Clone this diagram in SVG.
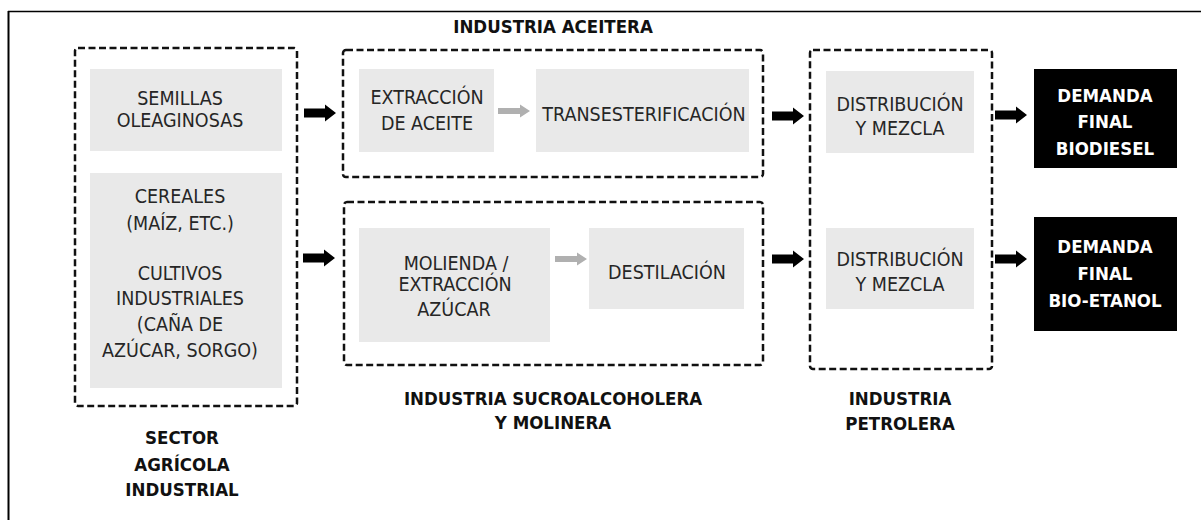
<svg xmlns="http://www.w3.org/2000/svg" width="1201" height="520" viewBox="0 0 1201 520">
<style>
.frame{stroke:#000;fill:none}
.group{fill:none;stroke:#111;stroke-width:2.5;stroke-dasharray:7 3.5}
.box{fill:#e9e9e9}
.dark{fill:#000}
text{font-family:"DejaVu Sans Condensed","DejaVu Sans","Liberation Sans",sans-serif;font-size:18.5px;text-anchor:middle;font-stretch:condensed}
.t{fill:#262626;font-size:19.5px}
.b{font-weight:bold;fill:#111}
.w{font-weight:bold;fill:#fff}
</style>
<defs>
<path id="ba" d="M0,-4.5 H21 V-8.5 L32,0 L21,8.5 V4.5 H0 Z" fill="#000"/>
<path id="ga" d="M0,-3 H22 V-6.5 L32,0 L22,6.5 V3 H0 Z" fill="#b0b0b0"/>
</defs>
<rect width="1201" height="520" fill="#fff"/>
<g id="frame">
<line class="frame" x1="8.5" y1="11" x2="8.5" y2="520" stroke-width="2"/>
<line class="frame" x1="8" y1="11.5" x2="1201" y2="11.5" stroke-width="1.5"/>
</g>
<g id="sector-agricola">
<rect class="group" x="75" y="48" width="222" height="358" rx="3"/>
<text class="b" x="182" y="444">SECTOR</text>
<text class="b" x="182" y="471">AGRÍCOLA</text>
<text class="b" x="182" y="496">INDUSTRIAL</text>
</g>
<g id="semillas">
<rect class="box" x="90" y="69" width="192" height="82"/>
<text class="t" x="180" y="105">SEMILLAS</text>
<text class="t" x="180" y="127">OLEAGINOSAS</text>
</g>
<g id="cereales">
<rect class="box" x="90" y="173" width="192" height="215"/>
<text class="t" x="180" y="203">CEREALES</text>
<text class="t" x="180" y="230">(MAÍZ, ETC.)</text>
<text class="t" x="180" y="280">CULTIVOS</text>
<text class="t" x="180" y="305">INDUSTRIALES</text>
<text class="t" x="180" y="331">(CAÑA DE</text>
<text class="t" x="180" y="357">AZÚCAR, SORGO)</text>
</g>
<g id="industria-aceitera">
<text class="b" x="553" y="33">INDUSTRIA ACEITERA</text>
<rect class="group" x="343" y="50" width="420" height="127" rx="3"/>
</g>
<g id="extraccion-aceite">
<rect class="box" x="359" y="69" width="135" height="83"/>
<text class="t" x="427" y="104">EXTRACCIÓN</text>
<text class="t" x="427" y="130">DE ACEITE</text>
</g>
<g id="transesterificacion">
<rect class="box" x="536" y="69" width="213" height="83"/>
<text class="t" x="644" y="121">TRANSESTERIFICACIÓN</text>
</g>
<g id="industria-sucroalcoholera">
<rect class="group" x="344" y="202" width="419" height="163" rx="3"/>
<text class="b" x="553" y="405">INDUSTRIA SUCROALCOHOLERA</text>
<text class="b" x="553" y="429">Y MOLINERA</text>
</g>
<g id="molienda">
<rect class="box" x="359" y="228" width="191" height="114"/>
<text class="t" x="456" y="270">MOLIENDA /</text>
<text class="t" x="455" y="291">EXTRACCIÓN</text>
<text class="t" x="454" y="316">AZÚCAR</text>
</g>
<g id="destilacion">
<rect class="box" x="589" y="228" width="155" height="81"/>
<text class="t" x="667" y="279">DESTILACIÓN</text>
</g>
<g id="industria-petrolera">
<rect class="group" x="810" y="50" width="182" height="319" rx="3"/>
<text class="b" x="900" y="405">INDUSTRIA</text>
<text class="b" x="900" y="430">PETROLERA</text>
</g>
<g id="distribucion-1">
<rect class="box" x="826" y="71" width="148" height="82"/>
<text class="t" x="900" y="111">DISTRIBUCIÓN</text>
<text class="t" x="900" y="135">Y MEZCLA</text>
</g>
<g id="distribucion-2">
<rect class="box" x="826" y="228" width="148" height="81"/>
<text class="t" x="900" y="266">DISTRIBUCIÓN</text>
<text class="t" x="900" y="291">Y MEZCLA</text>
</g>
<g id="demanda-biodiesel">
<rect class="dark" x="1034" y="69" width="143" height="99"/>
<text class="w" x="1105" y="102">DEMANDA</text>
<text class="w" x="1105" y="128">FINAL</text>
<text class="w" x="1105" y="155">BIODIESEL</text>
</g>
<g id="demanda-bioetanol">
<rect class="dark" x="1034" y="217" width="143" height="114"/>
<text class="w" x="1105" y="253">DEMANDA</text>
<text class="w" x="1105" y="280">FINAL</text>
<text class="w" x="1105" y="307">BIO-ETANOL</text>
</g>
<g id="connectors">
<use href="#ba" x="304" y="113"/>
<use href="#ba" x="303" y="258"/>
<use href="#ga" x="498" y="111"/>
<use href="#ga" x="555" y="259"/>
<use href="#ba" x="772" y="116"/>
<use href="#ba" x="772" y="259"/>
<use href="#ba" x="995" y="115"/>
<use href="#ba" x="995" y="259"/>
</g>
</svg>
